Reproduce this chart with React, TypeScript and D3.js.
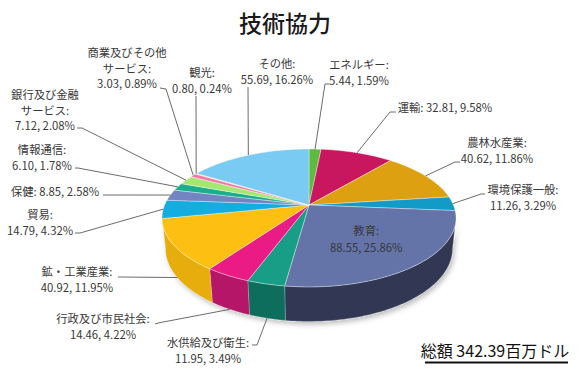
import React, { useMemo } from 'react';
import * as d3 from 'd3';

const W = 580;
const H = 372;

// data (amount in million USD, share as printed)
const categories = [
  'エネルギー', '運輸', '農林水産業', '環境保護一般', '教育', '水供給及び衛生',
  '行政及び市民社会', '鉱・工業産業', '貿易', '保健', '情報通信',
  '銀行及び金融\nサービス', '商業及びその他\nサービス', '観光', 'その他',
];
const amounts = [5.44, 32.81, 40.62, 11.26, 88.55, 11.95, 14.46, 40.92, 14.79, 8.85, 6.10, 7.12, 3.03, 0.80, 55.69];
const shares = [1.59, 9.58, 11.86, 3.29, 25.86, 3.49, 4.22, 11.95, 4.32, 2.58, 1.78, 2.08, 0.89, 0.24, 16.26];
const colors = [
  '#5fbb3e', '#c8175e', '#dca010', '#139bc8', '#6473a8', '#189e86', '#ea1b84',
  '#fdbf12', '#13ade0', '#7384c3', '#1bae8c', '#a4e872', '#f575ad', '#ffe27a', '#7acbf4',
];
const title = '技術協力';
const totalLabel = '総額 342.39百万ドル';

// label placement: text centre x, first baseline y, leader start + elbow
const labelLayout: any[] = [
  { x: 359, y: 69, s: [329, 84], e: [325, 84] },
  { x: 445, y: 112, one: true, s: [396, 112], e: [390, 112] },
  { x: 497, y: 147, s: [460, 162], e: [455, 162] },
  { x: 523, y: 194, s: [485, 194], e: [481, 194] },
  null,
  { x: 208, y: 347, s: [252, 345], e: [257, 345] },
  { x: 103, y: 323, s: [155, 324], e: [158, 323] },
  { x: 77, y: 276, s: [118, 277], e: [121, 277] },
  { x: 40, y: 219, s: [75, 233], e: [80, 233] },
  { x: 55, y: 196, one: true, s: [103, 195], e: [106, 195] },
  { x: 42, y: 154, s: [75, 168], e: [78, 168] },
  { x: 45, y: 99, s: [77, 128], e: [82, 128] },
  { x: 127, y: 57, s: [160, 88], e: [166, 89] },
  { x: 202, y: 77, s: [196, 96], e: [196, 96] },
  { x: 277, y: 68, s: [248, 87], e: [248, 87] },
];

// perspective projection of the pie
const cx = 309;
const cy = 205;
const scale = 144.4;
const sinP = 0.4605;
const cosP = 0.888;
const pa = 0.188;
const pb = 0.0975;
const depth3D = 0.24;

function proj(theta: number, r: number, h: number): [number, number] {
  const X = r * Math.sin(theta);
  const z = r * Math.cos(theta);
  const d = 1 + pa * z - pb * h;
  return [cx + (scale * X) / d, cy - (scale * (z * sinP + h * cosP)) / d];
}

function arcPoints(a0: number, a1: number, h: number) {
  const n = Math.max(2, Math.ceil(((a1 - a0) * 180) / Math.PI));
  return d3.range(n + 1).map(i => proj(a0 + ((a1 - a0) * i) / n, 1, h));
}

const fontFamily = '"Noto Sans CJK JP", "Noto Sans", sans-serif';

export default function App() {
  const arcs = useMemo(
    () =>
      d3
        .pie<number>()
        .sort(null)
        .startAngle(0)
        .endAngle(2 * Math.PI)(amounts),
    []
  );
  const line = d3.line();
  const visA = Math.acos(-pa);
  const visB = 2 * Math.PI - visA;

  const walls = arcs
    .map((a, i) => {
      const a0 = Math.max(a.startAngle, visA);
      const a1 = Math.min(a.endAngle, visB);
      if (a1 <= a0) return null;
      const top = arcPoints(a0, a1, 0);
      const bot = arcPoints(a0, a1, -depth3D).reverse();
      const xm = proj((a0 + a1) / 2, 1, 0)[0];
      const k = Math.max(0.25, Math.min(2, 0.4 + (xm - 190) * 0.0081));
      return { i, d: line([...top, ...bot]) + 'Z', fill: d3.rgb(colors[i]).darker(k).toString() };
    })
    .filter(Boolean) as any[];

  const tops = arcs.map((a, i) => ({
    i,
    d: line([[cx, cy], ...arcPoints(a.startAngle, a.endAngle, 0)]) + 'Z',
  }));

  const valText = (i: number) => `${amounts[i].toFixed(2)}, ${shares[i].toFixed(2)}%`;

  return (
    <svg width={W} height={H} style={{ position: 'absolute', left: 0, top: 0, background: '#fff' }}>
      <defs>
        <filter id="shadow" x="-20%" y="-20%" width="140%" height="160%">
          <feDropShadow dx="2" dy="3" stdDeviation="2.5" floodColor="#000" floodOpacity="0.25" />
        </filter>
      </defs>
      <text x={285} y={32} textAnchor="middle" fontFamily={fontFamily} fontSize={23} fontWeight={500} fill="#1a1a1a">
        {title}
      </text>

      <g filter="url(#shadow)">
        {walls.map(w => (
          <path key={w.i} d={w.d} fill={w.fill} stroke="#ffffff" strokeOpacity={0.35} strokeWidth={0.6} />
        ))}
      </g>
      <g>
        {tops.map(t => (
          <path key={t.i} d={t.d} fill={colors[t.i]} stroke="#ffffff" strokeOpacity={0.6} strokeWidth={0.6} strokeLinejoin="round" />
        ))}
      </g>

      <g fontFamily={fontFamily} fontSize={11.3} fill="#383838">
        {arcs.map((a, i) => {
          const lay = labelLayout[i];
          const mid = (a.startAngle + a.endAngle) / 2;
          const name = categories[i];
          if (!lay) {
            const [lx, ly] = proj(mid, 0.58, 0);
            return (
              <text key={i} textAnchor="middle">
                <tspan x={lx} y={ly - 3}>{name}:</tspan>
                <tspan x={lx} y={ly + 14}>{valText(i)}</tspan>
              </text>
            );
          }
          const front = Math.cos(mid) < -pa;
          const end = front ? proj(mid, 1, -depth3D) : proj(mid, 1, 0);
          const lines = lay.one
            ? [`${name}: ${valText(i)}`]
            : [...(name + ':').split('\n'), valText(i)];
          return (
            <g key={i}>
              <path
                d={line([lay.s, lay.e, end]) as string}
                fill="none"
                stroke="#5a5a5a"
                strokeWidth={0.9}
              />
              <text textAnchor="middle">
                {lines.map((t, j) => (
                  <tspan key={j} x={lay.x} y={lay.y + j * 15.5}>
                    {t}
                  </tspan>
                ))}
              </text>
            </g>
          );
        })}
      </g>

      <text x={495} y={357} textAnchor="middle" fontFamily={fontFamily} fontSize={16} fill="#111">
        {totalLabel}
      </text>
      <line x1={425} x2={568} y1={362.5} y2={362.5} stroke="#111" strokeWidth={2} />
    </svg>
  );
}
